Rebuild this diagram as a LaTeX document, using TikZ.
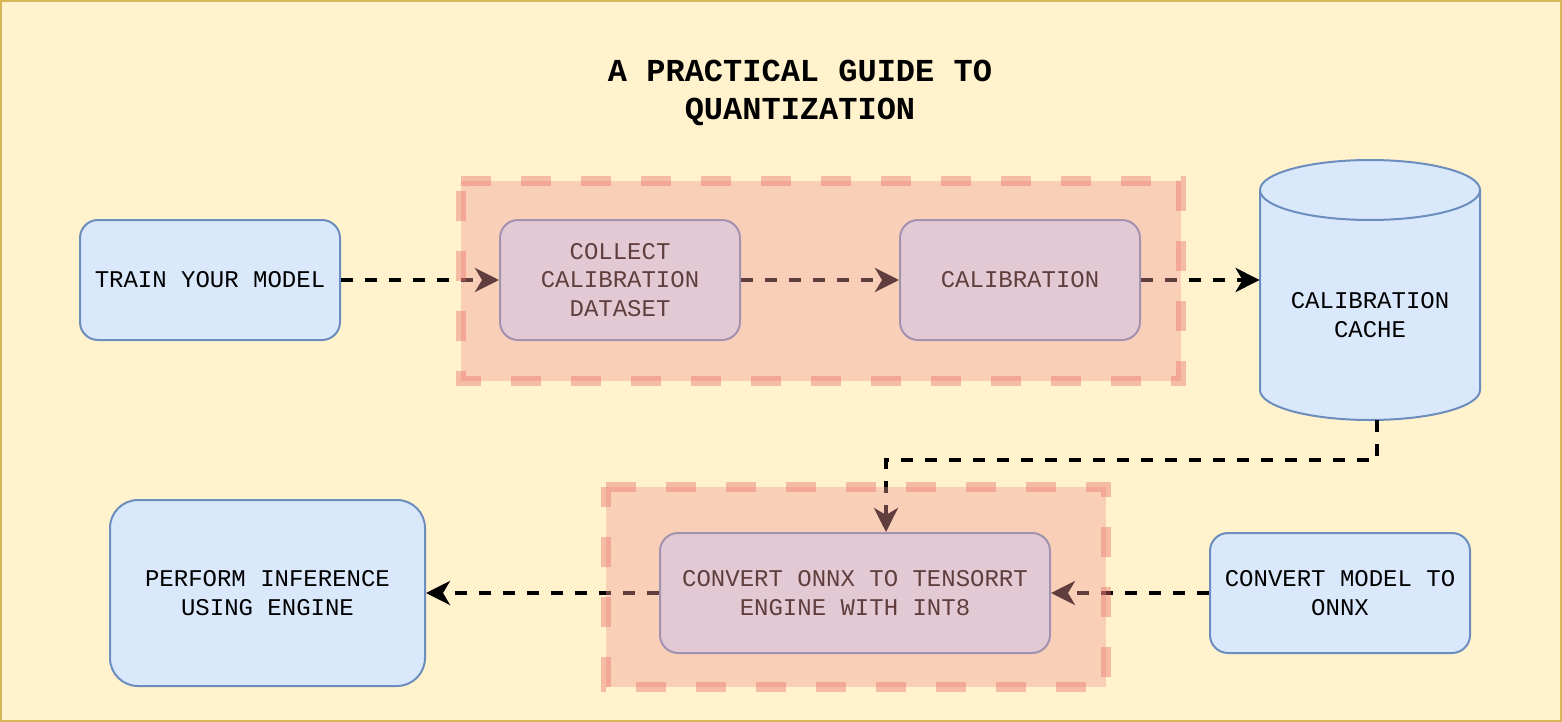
\documentclass[tikz,border=0pt]{standalone}
\usepackage{fontspec}
\setmainfont{Liberation Mono}
\usepackage{xcolor}
\usetikzlibrary{arrows.meta}

\definecolor{pagefill}{HTML}{FFF2CC}
\definecolor{pageline}{HTML}{D6B656}
\definecolor{boxfill}{HTML}{DAE8FC}
\definecolor{boxline}{HTML}{6C8EBF}
\definecolor{grpfill}{HTML}{F19C99}
\definecolor{grpline}{HTML}{EA6B66}

\tikzset{
  box/.style={draw=boxline, fill=boxfill, line width=1pt, rounded corners=9pt,
    align=center, inner sep=0pt, minimum height=60pt,
    font=\fontsize{12}{14.4}\selectfont},
  flow/.style={line width=2pt, dash pattern=on 6pt off 6pt,
    -{Stealth[length=12pt, width=12pt, inset=3.5pt]}},
  group/.style={fill=grpfill, draw=grpline, opacity=0.4, line width=5pt,
    dash pattern=on 15pt off 15pt}
}

\begin{document}
\begin{tikzpicture}[x=0.5pt, y=-0.5pt]
          \useasboundingbox (0,0) rectangle (1562,722);
          \draw[fill=pagefill, draw=pageline, line width=1pt] (1,1) rectangle (1561,721);

          \node[font=\fontsize{16}{19}\selectfont\bfseries, align=center] (title) at (800,93)
            {A PRACTICAL GUIDE TO\\QUANTIZATION};

          \node[box, minimum width=130pt] (train) at (210,280) {TRAIN YOUR MODEL};
          \node[box, minimum width=120pt] (collect) at (620,280) {COLLECT\\CALIBRATION\\DATASET};
          \node[box, minimum width=120pt] (calib) at (1020,280) {CALIBRATION};

          % cylinder for the cache
          \fill[boxfill] (1260,190) -- (1260,390) arc[start angle=180, end angle=0, x radius=110, y radius=30] -- (1480,190) -- cycle;
          \draw[boxline, line width=1pt] (1260,190) -- (1260,390) arc[start angle=180, end angle=0, x radius=110, y radius=30] -- (1480,190);
          \draw[boxline, fill=boxfill, line width=1pt] (1370,190) ellipse[x radius=110, y radius=30];
          \node[align=center, inner sep=0pt, minimum width=110pt, minimum height=105pt,
            font=\fontsize{12}{14.4}\selectfont] (cache) at (1370,315) {CALIBRATION\\CACHE};
          \coordinate (cacheout) at (1377,420);

          \node[box, minimum width=195pt] (trt) at (855,593) {CONVERT ONNX TO TENSORRT\\ENGINE WITH INT8};
          \node[box, minimum width=130pt] (onnx) at (1340,593) {CONVERT MODEL TO\\ONNX};
          \node[box, minimum width=157.5pt, minimum height=93pt, rounded corners=14pt] (infer) at (267.5,593)
            {PERFORM INFERENCE\\USING ENGINE};

          \draw[flow] (train) -- (collect);
          \draw[flow] (collect) -- (calib);
          \draw[flow] (calib) -- (calib -| cache.west);
          \draw[flow] (cacheout) -- ++(0,40) -| ([xshift=15.5pt]trt.north);
          \draw[flow] (onnx) -- (trt);
          \draw[flow] (trt) -- (infer);

          % tinted groups on top
          \draw[group] (461,181) -- (1181,181) -- (1181,381) -- (461,381) -- cycle;
          \draw[group] (606,487) -- (1106,487) -- (1106,687) -- (606,687) -- cycle;

          \end{tikzpicture}
\end{document}
